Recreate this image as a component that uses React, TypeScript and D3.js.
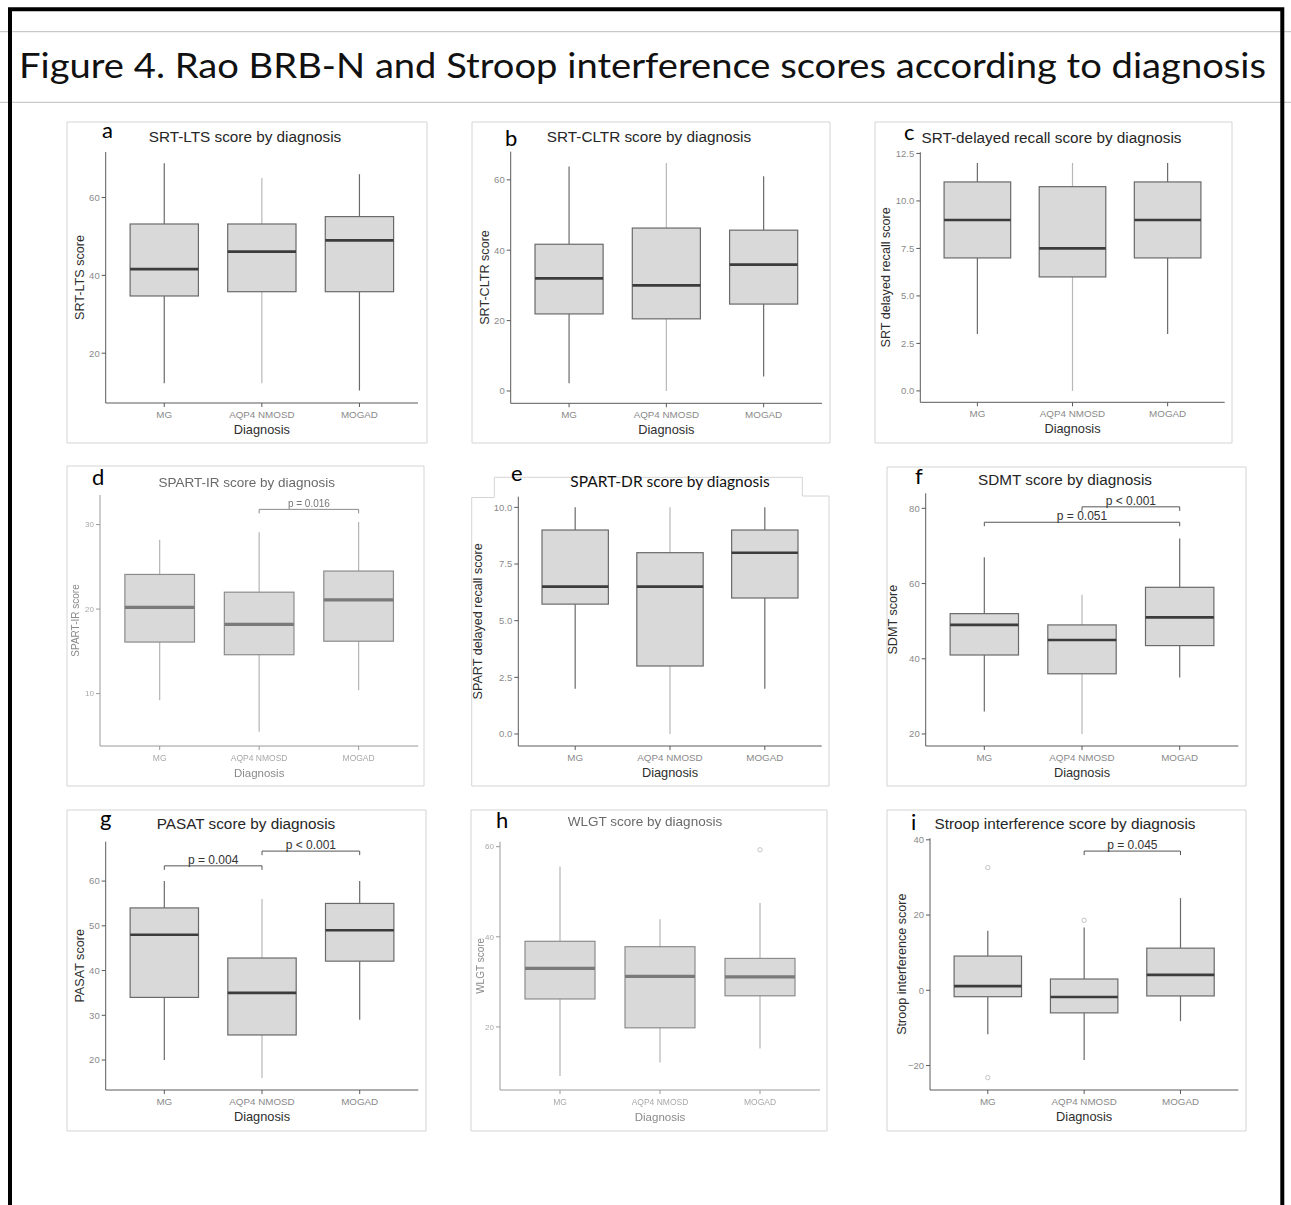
import React from "react";
import * as d3 from "d3";

// ---------- DATA ----------
const categories = ["MG", "AQP4 NMOSD", "MOGAD"];

// each row: [lower whisker, Q1, median, Q3, upper whisker]
const srtLtsStats = [
  [12.3, 34.7, 41.6, 53.2, 68.8],
  [12.3, 35.8, 46.1, 53.2, 65.0],
  [10.4, 35.8, 49.0, 55.1, 66.0],
];
const srtCltrStats = [
  [2.2, 21.9, 32.0, 41.7, 63.8],
  [0.0, 20.5, 30.0, 46.3, 64.8],
  [4.1, 24.7, 35.9, 45.7, 61.0],
];
const srtDrStats = [
  [3.0, 7.0, 9.0, 11.0, 12.0],
  [0.0, 6.0, 7.5, 10.75, 12.0],
  [3.0, 7.0, 9.0, 11.0, 12.0],
];
const spartIrStats = [
  [9.2, 16.1, 20.2, 24.1, 28.2],
  [5.5, 14.6, 18.2, 22.0, 29.1],
  [10.4, 16.2, 21.1, 24.5, 30.3],
];
const spartDrStats = [
  [2.0, 5.73, 6.5, 9.0, 10.0],
  [0.0, 3.0, 6.5, 8.0, 10.0],
  [2.0, 6.0, 8.0, 9.0, 10.0],
];
const sdmtStats = [
  [26.0, 41.0, 49.0, 52.0, 67.0],
  [20.0, 36.0, 45.0, 49.0, 57.0],
  [35.0, 43.5, 51.0, 59.0, 72.0],
];
const pasatStats = [
  [20.0, 34.0, 48.0, 54.0, 60.0],
  [16.0, 25.6, 35.0, 42.8, 56.0],
  [29.0, 42.1, 49.0, 55.0, 60.0],
];
const wlgtStats = [
  [9.1, 26.2, 33.0, 39.0, 55.6],
  [12.1, 19.8, 31.2, 37.8, 43.9],
  [15.2, 26.9, 31.1, 35.2, 47.5],
];
const stroopStats = [
  [-11.7, -1.7, 1.1, 9.1, 15.8],
  [-18.5, -6.0, -1.8, 3.0, 16.7],
  [-8.2, -1.5, 4.1, 11.2, 24.5],
];

// outliers: [category index, value]
const wlgtOutliers = [[2, 59.3]];
const stroopOutliers = [[0, 32.6], [0, -23.2], [1, 18.6]];

// significance brackets: [from index, to index, y value, label]
const spartIrBrackets = [[1, 2, 31.8, "p = 0.016"]];
const sdmtBrackets = [
  [1, 2, 80.4, "p < 0.001"],
  [0, 2, 76.3, "p = 0.051"],
];
const pasatBrackets = [
  [0, 1, 63.4, "p = 0.004"],
  [1, 2, 66.7, "p < 0.001"],
];
const stroopBrackets = [[1, 2, 37.0, "p = 0.045"]];

// y domains and ticks
const srtLtsDomain = [7.2, 71.7];
const srtLtsTicks = [20, 40, 60];
const srtCltrDomain = [-3.5, 68];
const srtCltrTicks = [0, 20, 40, 60];
const srtDrDomain = [-0.6, 12.56];
const srtDrTicks = [0, 2.5, 5, 7.5, 10, 12.5];
const spartIrDomain = [3.8, 33.5];
const spartIrTicks = [10, 20, 30];
const spartDrDomain = [-0.53, 10.47];
const spartDrTicks = [0, 2.5, 5, 7.5, 10];
const sdmtDomain = [16.8, 84];
const sdmtTicks = [20, 40, 60, 80];
const pasatDomain = [13.3, 68.8];
const pasatTicks = [20, 30, 40, 50, 60];
const wlgtDomain = [6.0, 61.1];
const wlgtTicks = [20, 40, 60];
const stroopDomain = [-26.5, 40.4];
const stroopTicks = [-20, 0, 20, 40];

const panelLetters = ["a", "b", "c", "d", "e", "f", "g", "h", "i"];
const panelTitles = [
  "SRT-LTS score by diagnosis",
  "SRT-CLTR score by diagnosis",
  "SRT-delayed recall score by diagnosis",
  "SPART-IR score by diagnosis",
  "SPART-DR score by diagnosis",
  "SDMT score by diagnosis",
  "PASAT score by diagnosis",
  "WLGT score by diagnosis",
  "Stroop interference score by diagnosis",
];
const yAxisTitles = [
  "SRT-LTS score",
  "SRT-CLTR score",
  "SRT delayed recall score",
  "SPART-IR score",
  "SPART delayed recall score",
  "SDMT score",
  "PASAT score",
  "WLGT score",
  "Stroop interference score",
];
const xAxisTitle = "Diagnosis";
const figureTitle =
  "Figure 4. Rao BRB-N and Stroop interference scores according to diagnosis";

// ---------- LAYOUT ----------
type Layout = {
  frame: number[]; // x0,y0,x1,y1
  plot: number[]; // left, top, right, bottom
  title: number[]; // cx, baseline, size
  letter: number[]; // x, baseline
  ylabX: number;
  tickFmt: string;
  faded: boolean;
  midLight: boolean;
  titleFont?: string;
  tab?: boolean;
};

const layouts: Layout[] = [
  { frame: [67, 122, 427, 443], plot: [105.7, 152, 418, 403], title: [245, 142, 15.3], letter: [102, 138], ylabX: 84, tickFmt: "d", faded: false, midLight: true },
  { frame: [472, 122, 830, 443], plot: [510.7, 151.7, 822, 403.3], title: [649, 142, 15.3], letter: [505, 146], ylabX: 489, tickFmt: "d", faded: false, midLight: true },
  { frame: [875, 122, 1232, 443], plot: [920.3, 152.3, 1224.7, 402.3], title: [1051.5, 143, 15.3], letter: [904, 140], ylabX: 890, tickFmt: ".1f", faded: false, midLight: true },
  { frame: [67, 466, 424, 786], plot: [100, 495, 418.3, 746], title: [246.7, 487, 13.5], letter: [92, 485], ylabX: 79, tickFmt: "d", faded: true, midLight: false },
  { frame: [471.7, 497, 829, 786], plot: [518.3, 496.7, 821.7, 746], title: [670, 487, 15.5], letter: [511, 481], ylabX: 482, tickFmt: ".1f", faded: false, midLight: true, titleFont: "Lato, 'Noto Sans', sans-serif", tab: true },
  { frame: [887, 467, 1246, 786], plot: [925.7, 493.3, 1238.3, 746], title: [1065, 485, 15.3], letter: [915, 484], ylabX: 897, tickFmt: "d", faded: false, midLight: true },
  { frame: [67, 810, 426, 1131], plot: [105.7, 841.7, 418.3, 1090], title: [246, 829, 15.3], letter: [100, 826], ylabX: 84, tickFmt: "d", faded: false, midLight: true },
  { frame: [471, 810, 827, 1131], plot: [500, 841.7, 820, 1090], title: [645, 826, 13.5], letter: [496, 828], ylabX: 484, tickFmt: "d", faded: true, midLight: false },
  { frame: [887, 810, 1246, 1131], plot: [930, 838.3, 1238.3, 1090], title: [1065, 829, 15.3], letter: [911, 830], ylabX: 906, tickFmt: "d", faded: false, midLight: false },
];

const panelStats = [srtLtsStats, srtCltrStats, srtDrStats, spartIrStats, spartDrStats, sdmtStats, pasatStats, wlgtStats, stroopStats];
const panelDomains = [srtLtsDomain, srtCltrDomain, srtDrDomain, spartIrDomain, spartDrDomain, sdmtDomain, pasatDomain, wlgtDomain, stroopDomain];
const panelTicks = [srtLtsTicks, srtCltrTicks, srtDrTicks, spartIrTicks, spartDrTicks, sdmtTicks, pasatTicks, wlgtTicks, stroopTicks];
const panelBrackets: any[] = [[], [], [], spartIrBrackets, [], sdmtBrackets, pasatBrackets, [], stroopBrackets];
const panelOutliers: any[] = [[], [], [], [], [], [], [], wlgtOutliers, stroopOutliers];

const GG = "'Liberation Sans', Arial, Helvetica, sans-serif";
const WORD = "Lato, 'Noto Sans', sans-serif";

function Panel({ i }: { i: number }) {
  const L = layouts[i];
  const stats = panelStats[i];
  const [l, t, r, b] = L.plot;
  const x = d3.scalePoint<string>().domain(categories).range([l, r]).padding(0.6);
  const y = d3.scaleLinear().domain(panelDomains[i]).range([b, t]);
  const bw = x.step() * 0.7;
  const fmt = d3.format(L.tickFmt);
  const faded = L.faded;
  const axisCol = faded ? "#9a9a9a" : "#5a5a5a";
  const tickTxt = faded ? "#a8a8a8" : "#8a8a8a";
  const labCol = faded ? "#8a8a8a" : "#2e2e2e";
  const boxStroke = faded ? "#8c8c8c" : "#6a6a6a";
  const medCol = faded ? "#7a7a7a" : "#3c3c3c";
  const [fx0, fy0, fx1, fy1] = L.frame;

  let framePath = `M${fx0},${fy0}H${fx1}V${fy1}H${fx0}Z`;
  if (L.tab) {
    framePath = `M${fx0},786V497.5H494.3V477.3H802.3V496H${fx1}V786Z`;
  }

  return (
    <g>
      <path d={framePath} fill="none" stroke="#d4d4d4" strokeWidth={1} />
      <g filter={faded ? "url(#soft)" : undefined}>
        <line x1={l} x2={l} y1={t} y2={b} stroke={axisCol} strokeWidth={1} />
        <line x1={l} x2={r} y1={b} y2={b} stroke={axisCol} strokeWidth={1} />
        {panelTicks[i].map((v) => (
          <g key={v}>
            <line x1={l - 4} x2={l} y1={y(v)} y2={y(v)} stroke={axisCol} />
            <text x={l - 6} y={y(v)} dy="0.35em" textAnchor="end" fontSize={faded ? 8 : 9.5} fill={tickTxt} fontFamily={GG}>
              {fmt(v)}
            </text>
          </g>
        ))}
        {categories.map((c) => (
          <g key={c}>
            <line x1={x(c)} x2={x(c)} y1={b} y2={b + 4} stroke={axisCol} />
            <text x={x(c)} y={b + 15} textAnchor="middle" fontSize={faded ? 8.5 : 9.8} fill={tickTxt} fontFamily={GG}>
              {c}
            </text>
          </g>
        ))}
        <text x={(l + r) / 2} y={b + 31} textAnchor="middle" fontSize={faded ? 11.5 : 12.8} fill={labCol} fontFamily={GG}>
          {xAxisTitle}
        </text>
        <text
          transform={`translate(${L.ylabX},${(t + b) / 2}) rotate(-90)`}
          textAnchor="middle"
          fontSize={faded ? 10 : 12.6}
          fill={labCol}
          fontFamily={GG}
        >
          {yAxisTitles[i]}
        </text>
        {stats.map((s, k) => {
          const cx = x(categories[k])!;
          const whisk = faded ? "#b4b4b4" : L.midLight && k === 1 ? "#b8b8b8" : "#6a6a6a";
          return (
            <g key={k}>
              <line x1={cx} x2={cx} y1={y(s[0])} y2={y(s[1])} stroke={whisk} strokeWidth={1.2} />
              <line x1={cx} x2={cx} y1={y(s[3])} y2={y(s[4])} stroke={whisk} strokeWidth={1.2} />
              <rect x={cx - bw / 2} y={y(s[3])} width={bw} height={y(s[1]) - y(s[3])} fill="#d9d9d9" stroke={boxStroke} strokeWidth={1.2} />
              <line x1={cx - bw / 2} x2={cx + bw / 2} y1={y(s[2])} y2={y(s[2])} stroke={medCol} strokeWidth={faded ? 3.2 : 2.6} />
            </g>
          );
        })}
        {panelOutliers[i].map((o: any, k: number) => (
          <circle key={k} cx={x(categories[o[0]])} cy={y(o[1])} r={2.2} fill="none" stroke="#c4c4c4" strokeWidth={1} />
        ))}
        {panelBrackets[i].map((br: any, k: number) => {
          const x1 = x(categories[br[0]])!;
          const x2 = x(categories[br[1]])!;
          const yy = y(br[2]);
          return (
            <g key={k}>
              <path d={`M${x1},${yy + 4}V${yy}H${x2}V${yy + 4}`} fill="none" stroke={faded ? "#8a8a8a" : "#555"} strokeWidth={1} />
              <text x={(x1 + x2) / 2} y={yy - 2} textAnchor="middle" fontSize={faded ? 10 : 12} fill={faded ? "#777" : "#333"} fontFamily={GG}>
                {br[3]}
              </text>
            </g>
          );
        })}
        <text
          x={L.title[0]}
          y={L.title[1]}
          textAnchor="middle"
          fontSize={L.title[2]}
          fill={L.titleFont ? "#111" : faded ? "#6a6a6a" : "#262626"}
          fontFamily={L.titleFont || GG}
        >
          {panelTitles[i]}
        </text>
      </g>
      <text x={L.letter[0]} y={L.letter[1]} fontSize={22} fill="#000" fontFamily={WORD}>
        {panelLetters[i]}
      </text>
    </g>
  );
}

export default function App() {
  return (
    <div style={{ position: "absolute", left: 0, top: 0 }}>
      <svg width={1291} height={1205} style={{ display: "block", background: "#fff" }}>
        <defs>
          <filter id="soft" x="-5%" y="-5%" width="110%" height="110%">
            <feGaussianBlur stdDeviation={0.55} />
          </filter>
        </defs>
        <rect x={0} y={0} width={1291} height={1205} fill="#fff" />
        <line x1={0} x2={1291} y1={31.7} y2={31.7} stroke="#bdbdbd" strokeWidth={1} />
        <line x1={0} x2={1291} y1={102.3} y2={102.3} stroke="#bdbdbd" strokeWidth={1} />
        <path d="M10,1210V9.3H1282.3V1210" fill="none" stroke="#000" strokeWidth={4} />
        <text x={19} y={78.3} fontSize={35} fontFamily={WORD} fill="#111" textLength={1247} lengthAdjust="spacingAndGlyphs">
          {figureTitle}
        </text>
        {layouts.map((_, i) => (
          <Panel key={i} i={i} />
        ))}
      </svg>
    </div>
  );
}
